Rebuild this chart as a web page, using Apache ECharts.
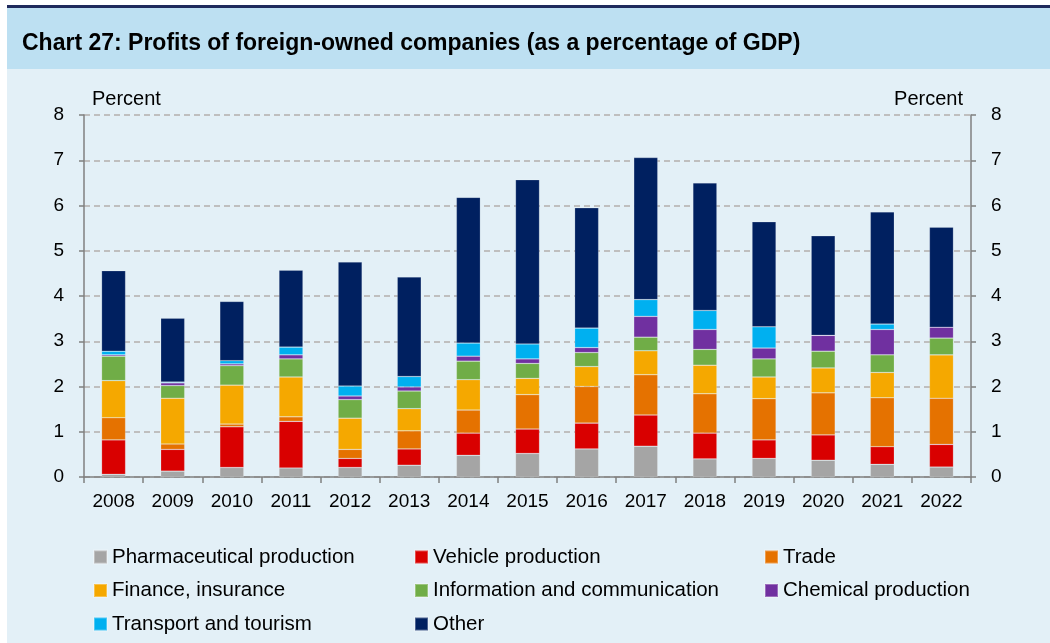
<!DOCTYPE html>
<html>
<head>
<meta charset="utf-8">
<script src="https://cdn.jsdelivr.net/npm/echarts@6/dist/echarts.min.js"></script>
<style>
  html, body { margin: 0; padding: 0; background: #fff; }
  #chart { width: 1050px; height: 643px; }
</style>
</head>
<body>
<div id="chart"></div>
<script>
// categories
const years = ['2008', '2009', '2010', '2011', '2012', '2013', '2014', '2015',
  '2016', '2017', '2018', '2019', '2020', '2021', '2022']
const yTicks = [0, 1, 2, 3, 4, 5, 6, 7, 8]

// series values, percent of GDP
const pharma    = [0.06, 0.13, 0.21, 0.20, 0.21, 0.26, 0.48, 0.52, 0.62, 0.68, 0.40, 0.41, 0.37, 0.28, 0.22]
const vehicle   = [0.76, 0.48, 0.90, 1.03, 0.20, 0.36, 0.49, 0.54, 0.57, 0.69, 0.57, 0.41, 0.56, 0.39, 0.50]
const trade     = [0.49, 0.12, 0.06, 0.10, 0.20, 0.40, 0.51, 0.76, 0.81, 0.89, 0.87, 0.91, 0.93, 1.08, 1.02]
const finance   = [0.82, 1.01, 0.86, 0.88, 0.69, 0.49, 0.67, 0.36, 0.44, 0.53, 0.63, 0.48, 0.55, 0.56, 0.96]
const info      = [0.54, 0.28, 0.43, 0.40, 0.41, 0.39, 0.41, 0.33, 0.31, 0.30, 0.35, 0.40, 0.37, 0.39, 0.37]
const chemical  = [0.03, 0.06, 0.04, 0.09, 0.08, 0.09, 0.11, 0.10, 0.11, 0.46, 0.44, 0.24, 0.35, 0.56, 0.24]
const transport = [0.08, 0.02, 0.07, 0.17, 0.22, 0.23, 0.29, 0.33, 0.43, 0.37, 0.42, 0.47, 0.00, 0.12, -0.03]
const other     = [1.78, 1.41, 1.31, 1.70, 2.74, 2.20, 3.22, 3.63, 2.66, 3.14, 2.82, 2.32, 2.20, 2.48, 2.21]

const FONT = '"Liberation Sans", Arial, sans-serif'

const seriesDefs = [
  { name: 'Pharmaceutical production', data: pharma, color: '#a5a5a5' },
  { name: 'Vehicle production', data: vehicle, color: '#d90000' },
  { name: 'Trade', data: trade, color: '#e57200' },
  { name: 'Finance, insurance', data: finance, color: '#f5a800' },
  { name: 'Information and communication', data: info, color: '#70ad47' },
  { name: 'Chemical production', data: chemical, color: '#7030a0' },
  { name: 'Transport and tourism', data: transport, color: '#00b0f0' },
  { name: 'Other', data: other, color: '#002060' }
]

const chart = echarts.init(document.getElementById('chart'))

function yAxis(pos) {
  return {
    type: 'value',
    position: pos,
    min: yTicks[0],
    max: yTicks[yTicks.length - 1],
    interval: 1,
    name: 'Percent',
    nameLocation: 'end',
    nameGap: 6,
    nameTextStyle: {
      fontFamily: FONT, fontSize: 20, color: '#000',
      align: pos === 'left' ? 'left' : 'right',
      padding: pos === 'left' ? [0, 0, 0, 8] : [0, 8, 0, 0]
    },
    axisLine: { show: true, lineStyle: { color: '#808080', width: 1.5 } },
    axisTick: { show: true, length: 5, lineStyle: { color: '#808080', width: 1.5 } },
    axisLabel: { fontFamily: FONT, fontSize: 19, color: '#000', margin: 20 },
    splitLine: {
      show: pos === 'left',
      lineStyle: { color: '#bfbfbf', width: 1.8, type: [6, 4] }
    }
  }
}

function legendCol(left, names) {
  return {
    orient: 'vertical',
    left: left,
    top: 546.5,
    padding: 0,
    data: names,
    icon: 'rect',
    itemWidth: 13,
    itemHeight: 13,
    itemGap: 12.5,
    textStyle: { fontFamily: FONT, fontSize: 20.5, color: '#000', lineHeight: 21 }
  }
}

const option = {
  animation: false,
  backgroundColor: '#fff',
  graphic: [
    { type: 'rect', z: -100, silent: true, shape: { x: 7, y: 5, width: 1043, height: 3 }, style: { fill: '#1f2a5c' } },
    { type: 'rect', z: -100, silent: true, shape: { x: 7, y: 8, width: 1043, height: 61 }, style: { fill: '#bde0f2' } },
    { type: 'rect', z: -100, silent: true, shape: { x: 7, y: 69, width: 1043, height: 574 }, style: { fill: '#e3f0f7' } }
  ],
  title: {
    text: 'Chart 27: Profits of foreign-owned companies (as a percentage of GDP)',
    left: 22,
    top: 32.5,
    padding: 0,
    textStyle: { fontFamily: FONT, fontSize: 23, fontWeight: 'bold', color: '#000' }
  },
  legend: [
    legendCol(93, ['Pharmaceutical production', 'Finance, insurance', 'Transport and tourism']),
    legendCol(414, ['Vehicle production', 'Information and communication', 'Other']),
    legendCol(764, ['Trade', 'Chemical production'])
  ],
  grid: { left: 84, right: 79, top: 115, bottom: 166 },
  xAxis: {
    type: 'category',
    data: years,
    axisLine: { show: true, onZero: false, lineStyle: { color: '#808080', width: 1.5 } },
    axisTick: { show: true, length: 6, alignWithLabel: false, lineStyle: { color: '#808080', width: 1.5 } },
    axisLabel: { fontFamily: FONT, fontSize: 19, color: '#000', margin: 15 }
  },
  yAxis: [yAxis('left'), yAxis('right')],
  series: seriesDefs.map(s => ({
    name: s.name,
    type: 'bar',
    stack: 'total',
    data: s.data,
    barWidth: 24,
    itemStyle: { color: s.color, borderColor: 'rgba(255,255,255,0.3)', borderWidth: 0.6 }
  }))
}

chart.setOption(option)
</script>
</body>
</html>
